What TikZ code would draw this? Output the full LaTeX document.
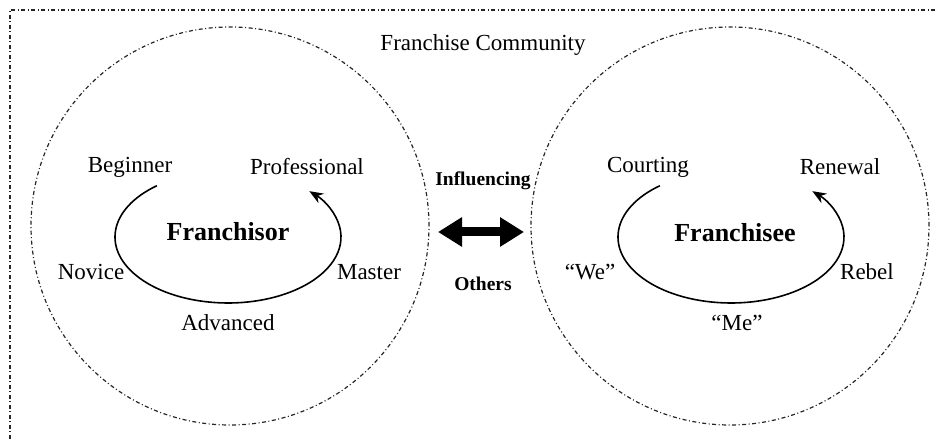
\documentclass[tikz,border=0pt]{standalone}
\usepackage{fontspec}
\setmainfont{Liberation Serif}
\usetikzlibrary{arrows.meta}
\begin{document}
\begin{tikzpicture}[x=1pt,y=1pt,line join=round,>=Stealth]
	\tikzset{every node/.style={font=\fontsize{23}{26}\selectfont},
		dashdot/.style={draw=black!85,line width=1.2pt,dash pattern=on 4pt off 2.5pt on 1pt off 2.5pt},
		cycle/.style={line width=1.6pt,-{Stealth[length=14pt,width=11pt]}},
		hub/.style={font=\fontsize{26}{30}\selectfont\bfseries},
		link/.style={font=\fontsize{19.5}{22}\selectfont\bfseries}}
	\useasboundingbox (0,0) rectangle (935,441);
	\draw[dashdot] (935,431)--(10,431)--(10,0);
	\node (community) at (483,396) {Franchise Community};
	\foreach \cx in {230,730}
	\draw[dashdot] (\cx,215) circle (199);
	\foreach \nm/\cx in {franchisor/228,franchisee/731}{
		\coordinate (\nm c) at (\cx,204);
		\draw[cycle] (\nm c) ++(129:113 and 66) arc[start angle=129,end angle=404,x radius=113,y radius=66];
	}
	% franchisor stages
	\node[hub] (franchisor) at (228,209) {Franchisor};
	\node (beginner) at (130,274) {Beginner};
	\node (professional) at (307,274) {Professional};
	\node (novice) at (91,169) {Novice};
	\node (master) at (369,169) {Master};
	\node (advanced) at (228,118) {Advanced};
	% franchisee stages
	\node[hub] (franchisee) at (735,208) {Franchisee};
	\node (courting) at (648,274) {Courting};
	\node (renewal) at (840,274) {Renewal};
	\node (we) at (590,169) {``We''};
	\node (rebel) at (867,169) {Rebel};
	\node (me) at (737,118) {``Me''};
	% influence between them
	\node[link] (influencing) at (483,260) {Influencing};
	\node[link] (others) at (483,157) {Others};
	\coordinate (tipL) at (438,209);
	\coordinate (tipR) at (524,209);
	\draw[line width=9pt,{Triangle[length=24pt,width=28pt]}-{Triangle[length=24pt,width=28pt]}] (tipL)--(tipR);
\end{tikzpicture}
\end{document}
